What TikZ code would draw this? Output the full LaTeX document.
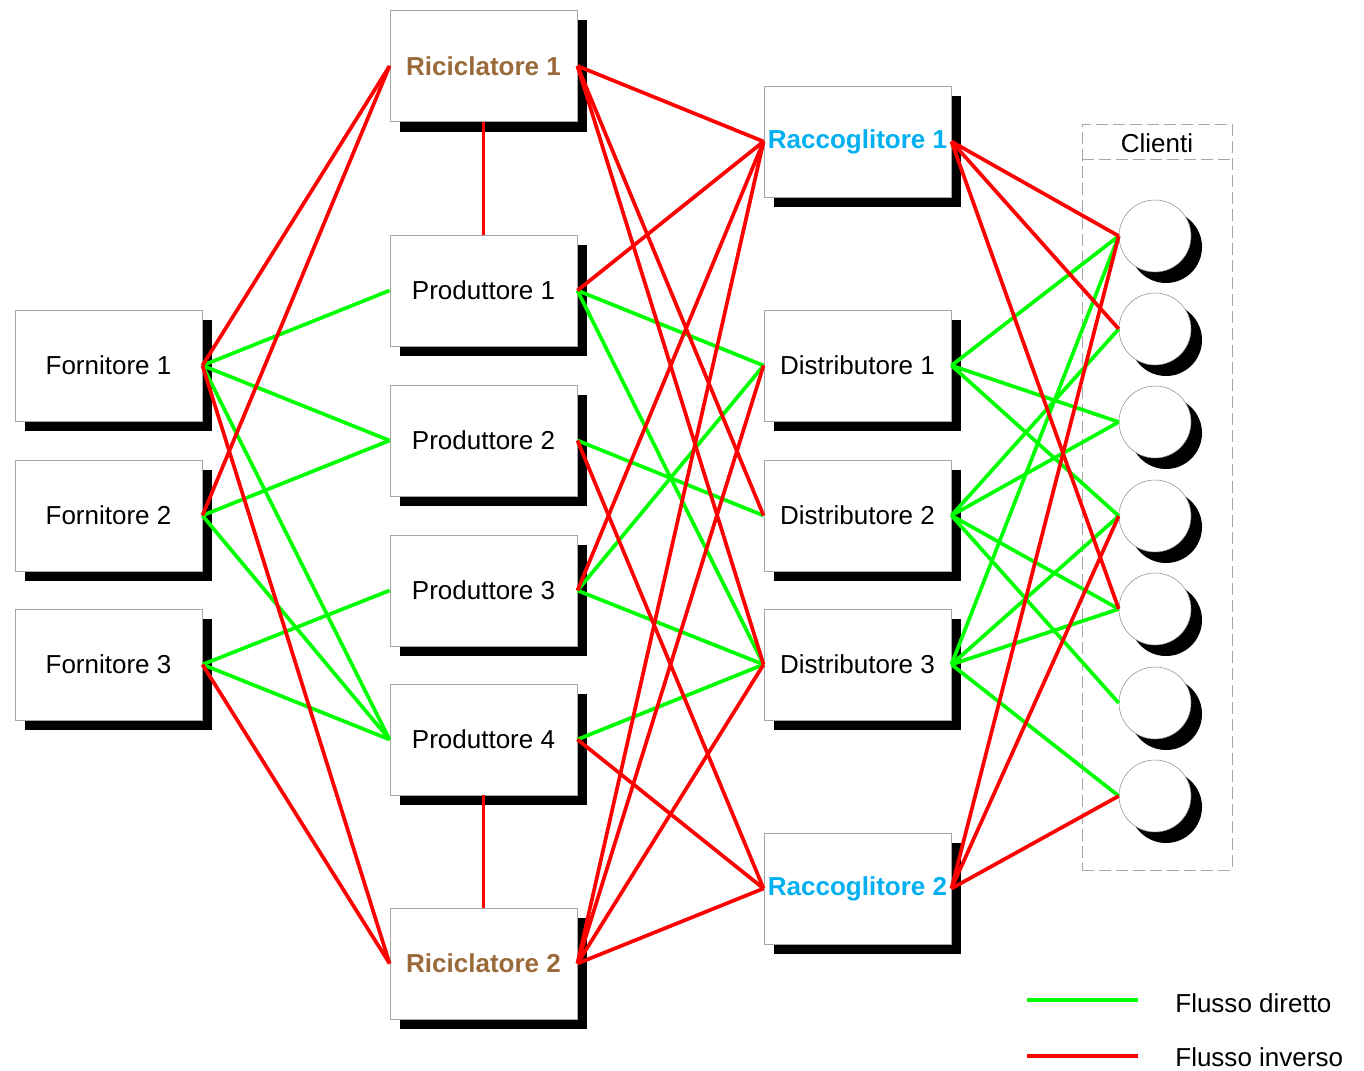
\documentclass[tikz,border=0pt]{standalone}
\usepackage{fontspec}
\setmainfont{Liberation Sans}
\usetikzlibrary{shadows}
\definecolor{ricbrown}{RGB}{155,106,58}
\definecolor{raccyan}{RGB}{0,176,240}
\definecolor{flowgreen}{RGB}{0,255,0}
\definecolor{flowred}{RGB}{255,0,0}

\begin{document}
\begin{tikzpicture}[
			actor/.style={rectangle, draw=black!35, line width=0.5pt, fill=white, minimum width=3.74cm, minimum height=2.22cm, inner sep=0pt, font=\fontsize{14.8}{17}\selectfont, general shadow={fill=black, shadow xshift=0.2cm, shadow yshift=-0.2cm}},
			recycler/.style={actor, font=\fontsize{14.8}{17}\selectfont\bfseries, text=ricbrown},
			collector/.style={actor, font=\fontsize{14.8}{17}\selectfont\bfseries, text=raccyan},
			client/.style={circle, draw=black!45, line width=0.3pt, fill=white, minimum size=1.44cm, inner sep=0pt, general shadow={fill=black, shadow xshift=0.22cm, shadow yshift=-0.22cm}},
			group/.style={rectangle, draw=black!35, line width=0.5pt, dash pattern=on 0.24cm off 0.1cm, minimum width=3.0cm, minimum height=14.92cm},
			label/.style={font=\fontsize{14.8}{17}\selectfont},
			direct/.style={line width=2.1pt, color=flowgreen},
			reverse/.style={line width=2.1pt, color=flowred}
			]
			\useasboundingbox (0,0) rectangle (27.28,-21.42);
			
			% --- Column 1: Fornitori ---
			\node[actor] (forn1) at (2.17, -7.31) {Fornitore 1};
			\node[actor] (forn2) at (2.17, -10.31) {Fornitore 2};
			\node[actor] (forn3) at (2.17, -13.29) {Fornitore 3};
			
			% --- Column 2: Riciclatori & Produttori ---
			\node[recycler] (ric1) at (9.67, -1.32) {Riciclatore 1};
			\node[actor] (prod1) at (9.67, -5.81) {Produttore 1};
			\node[actor] (prod2) at (9.67, -8.81) {Produttore 2};
			\node[actor] (prod3) at (9.67, -11.81) {Produttore 3};
			\node[actor] (prod4) at (9.67, -14.79) {Produttore 4};
			\node[recycler] (ric2) at (9.67, -19.27) {Riciclatore 2};
			
			% --- Column 3: Raccoglitori & Distributori ---
			\node[collector] (racc1) at (17.15, -2.83) {Raccoglitore 1};
			\node[actor] (dist1) at (17.15, -7.31) {Distributore 1};
			\node[actor] (dist2) at (17.15, -10.31) {Distributore 2};
			\node[actor] (dist3) at (17.15, -13.29) {Distributore 3};
			\node[collector] (racc2) at (17.15, -17.77) {Raccoglitore 2};
			
			% --- Column 4: Clienti ---
			\node[group] (clienti) at (23.14, -9.94) {};
			\draw[black!35, line width=0.5pt, dash pattern=on 0.24cm off 0.1cm] ([yshift=-0.72cm]clienti.north west) -- ([yshift=-0.72cm]clienti.north east);
			\node[label] (clientitxt) at (23.14, -2.86) {Clienti};
			\node[client] (cl1) at (23.1, -4.72) {};
			\node[client] (cl2) at (23.1, -6.58) {};
			\node[client] (cl3) at (23.1, -8.44) {};
			\node[client] (cl4) at (23.1, -10.32) {};
			\node[client] (cl5) at (23.1, -12.18) {};
			\node[client] (cl6) at (23.1, -14.06) {};
			\node[client] (cl7) at (23.1, -15.92) {};
			
			% --- Flusso diretto ---
			\draw[direct] (forn1.east) -- (prod1.west);
			\draw[direct] (forn1.east) -- (prod2.west);
			\draw[direct] (forn1.east) -- (prod4.west);
			\draw[direct] (forn2.east) -- (prod2.west);
			\draw[direct] (forn2.east) -- (prod4.west);
			\draw[direct] (forn3.east) -- (prod3.west);
			\draw[direct] (forn3.east) -- (prod4.west);
			
			\draw[direct] (prod1.east) -- (dist1.west);
			\draw[direct] (prod1.east) -- (dist3.west);
			\draw[direct] (prod2.east) -- (dist2.west);
			\draw[direct] (prod3.east) -- (dist1.west);
			\draw[direct] (prod3.east) -- (dist3.west);
			\draw[direct] (prod4.east) -- (dist3.west);
			
			\draw[direct] (dist1.east) -- (cl1.west);
			\draw[direct] (dist1.east) -- (cl3.west);
			\draw[direct] (dist1.east) -- (cl4.west);
			\draw[direct] (dist2.east) -- (cl2.west);
			\draw[direct] (dist2.east) -- (cl3.west);
			\draw[direct] (dist2.east) -- (cl5.west);
			\draw[direct] (dist2.east) -- (cl6.west);
			\draw[direct] (dist3.east) -- (cl1.west);
			\draw[direct] (dist3.east) -- (cl4.west);
			\draw[direct] (dist3.east) -- (cl5.west);
			\draw[direct] (dist3.east) -- (cl7.west);
			
			% --- Flusso inverso ---
			\draw[reverse] (forn1.east) -- (ric1.west);
			\draw[reverse] (forn2.east) -- (ric1.west);
			\draw[reverse] (forn1.east) -- (ric2.west);
			\draw[reverse] (forn3.east) -- (ric2.west);
			\draw[reverse] (ric1.south) -- (prod1.north);
			\draw[reverse] (prod4.south) -- (ric2.north);
			
			\draw[reverse] (ric1.east) -- (racc1.west);
			\draw[reverse] (ric1.east) -- (dist2.west);
			\draw[reverse] (ric1.east) -- (dist3.west);
			\draw[reverse] (prod1.east) -- (racc1.west);
			\draw[reverse] (prod3.east) -- (racc1.west);
			\draw[reverse] (prod2.east) -- (racc2.west);
			\draw[reverse] (prod4.east) -- (racc2.west);
			\draw[reverse] (ric2.east) -- (racc1.west);
			\draw[reverse] (ric2.east) -- (dist1.west);
			\draw[reverse] (ric2.east) -- (dist3.west);
			\draw[reverse] (ric2.east) -- (racc2.west);
			
			\draw[reverse] (racc1.east) -- (cl1.west);
			\draw[reverse] (racc1.east) -- (cl2.west);
			\draw[reverse] (racc1.east) -- (cl5.west);
			\draw[reverse] (racc2.east) -- (cl1.west);
			\draw[reverse] (racc2.east) -- (cl4.west);
			\draw[reverse] (racc2.east) -- (cl7.west);
			
			% --- Legenda ---
			\coordinate (lgd1) at (20.54, -20.0);
			\coordinate (lgd2) at (22.76, -20.0);
			\coordinate (lgi1) at (20.54, -21.12);
			\coordinate (lgi2) at (22.76, -21.12);
			\draw[direct] (lgd1) -- (lgd2);
			\draw[reverse] (lgi1) -- (lgi2);
			\node[label, anchor=west, inner sep=0pt] (lgdtxt) at (23.5, -20.06) {Flusso diretto};
			\node[label, anchor=west, inner sep=0pt] (lgitxt) at (23.5, -21.14) {Flusso inverso};
			
			\end{tikzpicture}
\end{document}
